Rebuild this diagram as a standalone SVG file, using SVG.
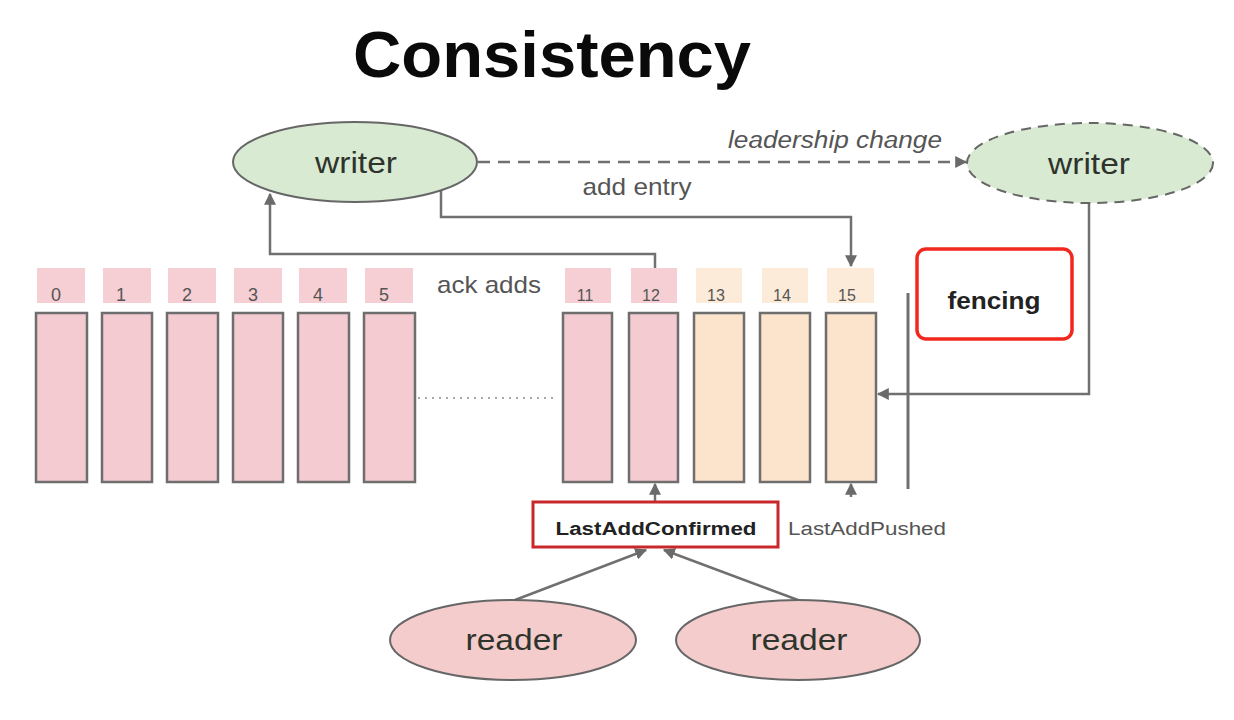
<svg xmlns="http://www.w3.org/2000/svg" width="1234" height="720" viewBox="0 0 1234 720">
<defs>
<style>
text{font-family:"Liberation Sans",Arial,sans-serif}
.box{stroke:#6e6e6e;stroke-width:2.5}
.pk{fill:#f4cbd0}
.pc{fill:#fbe3cc}
.lpk{fill:#f5cfd4}
.lpc{fill:#fcebd9}
.num{font-size:18px;fill:#555;text-anchor:middle}
.num2{font-size:16px;fill:#555;text-anchor:middle}
.conn{fill:none;stroke:#707070;stroke-width:2.5}
.lbl{fill:#555}
.ell{stroke:#666;stroke-width:2}
.big{font-size:30px;fill:#2e342c;text-anchor:middle}
</style>
<marker id="arr" viewBox="0 0 10 10" refX="9" refY="5" markerWidth="4.8" markerHeight="4.8" orient="auto" markerUnits="strokeWidth">
<path d="M0,0 L10,5 L0,10 z" fill="#6a6a6a"/>
</marker>
</defs>
<rect width="1234" height="720" fill="#ffffff"/>
<text x="552" y="77" font-size="64" font-weight="bold" fill="#0a0a0a" text-anchor="middle" textLength="398" lengthAdjust="spacingAndGlyphs">Consistency</text>

<g id="connectors">
<path class="conn" d="M655,268 V254 H270 V194" marker-end="url(#arr)"/>
<path class="conn" d="M441,190 V217 H851 V266" marker-end="url(#arr)"/>
<path class="conn" d="M478,162 H966" stroke-dasharray="12 8" marker-end="url(#arr)"/>
<path class="conn" d="M1089,203 V394 H878" marker-end="url(#arr)"/>
<path class="conn" d="M655,501 V484" marker-end="url(#arr)"/>
<path class="conn" d="M851,497 V484" marker-end="url(#arr)"/>
<path class="conn" d="M515,600 L646,550" marker-end="url(#arr)"/>
<path class="conn" d="M798,600 L664,550" marker-end="url(#arr)"/>
<path d="M418,398 H556" fill="none" stroke="#a8a8a8" stroke-width="2" stroke-dasharray="2 5"/>
<path d="M908,293 V489" fill="none" stroke="#707070" stroke-width="3"/>
<text class="lbl" x="835" y="148" font-size="23" font-style="italic" text-anchor="middle" textLength="214" lengthAdjust="spacingAndGlyphs">leadership change</text>
<text class="lbl" x="637" y="195" font-size="24" text-anchor="middle" textLength="109" lengthAdjust="spacingAndGlyphs">add entry</text>
<text class="lbl" x="489" y="293" font-size="24" text-anchor="middle" textLength="104" lengthAdjust="spacingAndGlyphs">ack adds</text>
<text class="lbl" x="867" y="535" font-size="18" text-anchor="middle" textLength="158" lengthAdjust="spacingAndGlyphs">LastAddPushed</text>
</g>

<g id="writer1">
<ellipse class="ell" cx="355" cy="162" rx="122" ry="40" fill="#d9ead3"/>
<text class="big" x="356" y="173" textLength="82" lengthAdjust="spacingAndGlyphs">writer</text>
</g>
<g id="writer2">
<ellipse class="ell" cx="1090" cy="163" rx="123" ry="40" fill="#d9ead3" stroke-dasharray="10 7"/>
<text class="big" x="1089" y="174" textLength="82" lengthAdjust="spacingAndGlyphs">writer</text>
</g>

<g id="entry0"><rect class="lpk" x="37" y="268" width="48" height="35"/><text class="num" x="56" y="301">0</text><rect class="box pk" x="36" y="313" width="51" height="169"/></g>
<g id="entry1"><rect class="lpk" x="103" y="268" width="48" height="35"/><text class="num" x="121" y="301">1</text><rect class="box pk" x="102" y="313" width="50" height="169"/></g>
<g id="entry2"><rect class="lpk" x="168" y="268" width="48" height="35"/><text class="num" x="187" y="301">2</text><rect class="box pk" x="167" y="313" width="51" height="169"/></g>
<g id="entry3"><rect class="lpk" x="234" y="268" width="48" height="35"/><text class="num" x="253" y="301">3</text><rect class="box pk" x="233" y="313" width="50" height="169"/></g>
<g id="entry4"><rect class="lpk" x="299" y="268" width="48" height="35"/><text class="num" x="318" y="301">4</text><rect class="box pk" x="298" y="313" width="51" height="169"/></g>
<g id="entry5"><rect class="lpk" x="365" y="268" width="48" height="35"/><text class="num" x="384" y="301">5</text><rect class="box pk" x="364" y="313" width="51" height="169"/></g>

<g id="entry11"><rect class="lpk" x="565" y="268" width="46" height="35"/><text class="num2" x="585" y="301">11</text><rect class="box pk" x="563" y="313" width="49" height="169"/></g>
<g id="entry12"><rect class="lpk" x="631" y="268" width="46" height="35"/><text class="num2" x="651" y="301">12</text><rect class="box pk" x="629" y="313" width="49" height="169"/></g>
<g id="entry13"><rect class="lpc" x="696" y="268" width="46" height="35"/><text class="num2" x="716" y="301">13</text><rect class="box pc" x="694" y="313" width="50" height="169"/></g>
<g id="entry14"><rect class="lpc" x="762" y="268" width="46" height="35"/><text class="num2" x="782" y="301">14</text><rect class="box pc" x="760" y="313" width="50" height="169"/></g>
<g id="entry15"><rect class="lpc" x="827" y="268" width="47" height="35"/><text class="num2" x="847" y="301">15</text><rect class="box pc" x="826" y="313" width="50" height="169"/></g>

<g id="fencing">
<rect x="917" y="249" width="155" height="90" rx="9" fill="#fff" stroke="#f2281e" stroke-width="3.5"/>
<text x="994" y="309" font-size="24" font-weight="bold" fill="#222" text-anchor="middle" textLength="93" lengthAdjust="spacingAndGlyphs">fencing</text>
</g>

<g id="lastAddConfirmed">
<rect x="533" y="502" width="245" height="45" fill="#fff" stroke="#c8282c" stroke-width="3"/>
<text x="656" y="535" font-size="18" font-weight="bold" fill="#222" text-anchor="middle" textLength="201" lengthAdjust="spacingAndGlyphs">LastAddConfirmed</text>
</g>

<g id="reader1">
<ellipse class="ell" cx="513" cy="640" rx="123" ry="40" fill="#f4cccc"/>
<text class="big" x="514" y="650" textLength="97" lengthAdjust="spacingAndGlyphs">reader</text>
</g>
<g id="reader2">
<ellipse class="ell" cx="798" cy="640" rx="122" ry="40" fill="#f4cccc"/>
<text class="big" x="799" y="650" textLength="97" lengthAdjust="spacingAndGlyphs">reader</text>
</g>
</svg>
